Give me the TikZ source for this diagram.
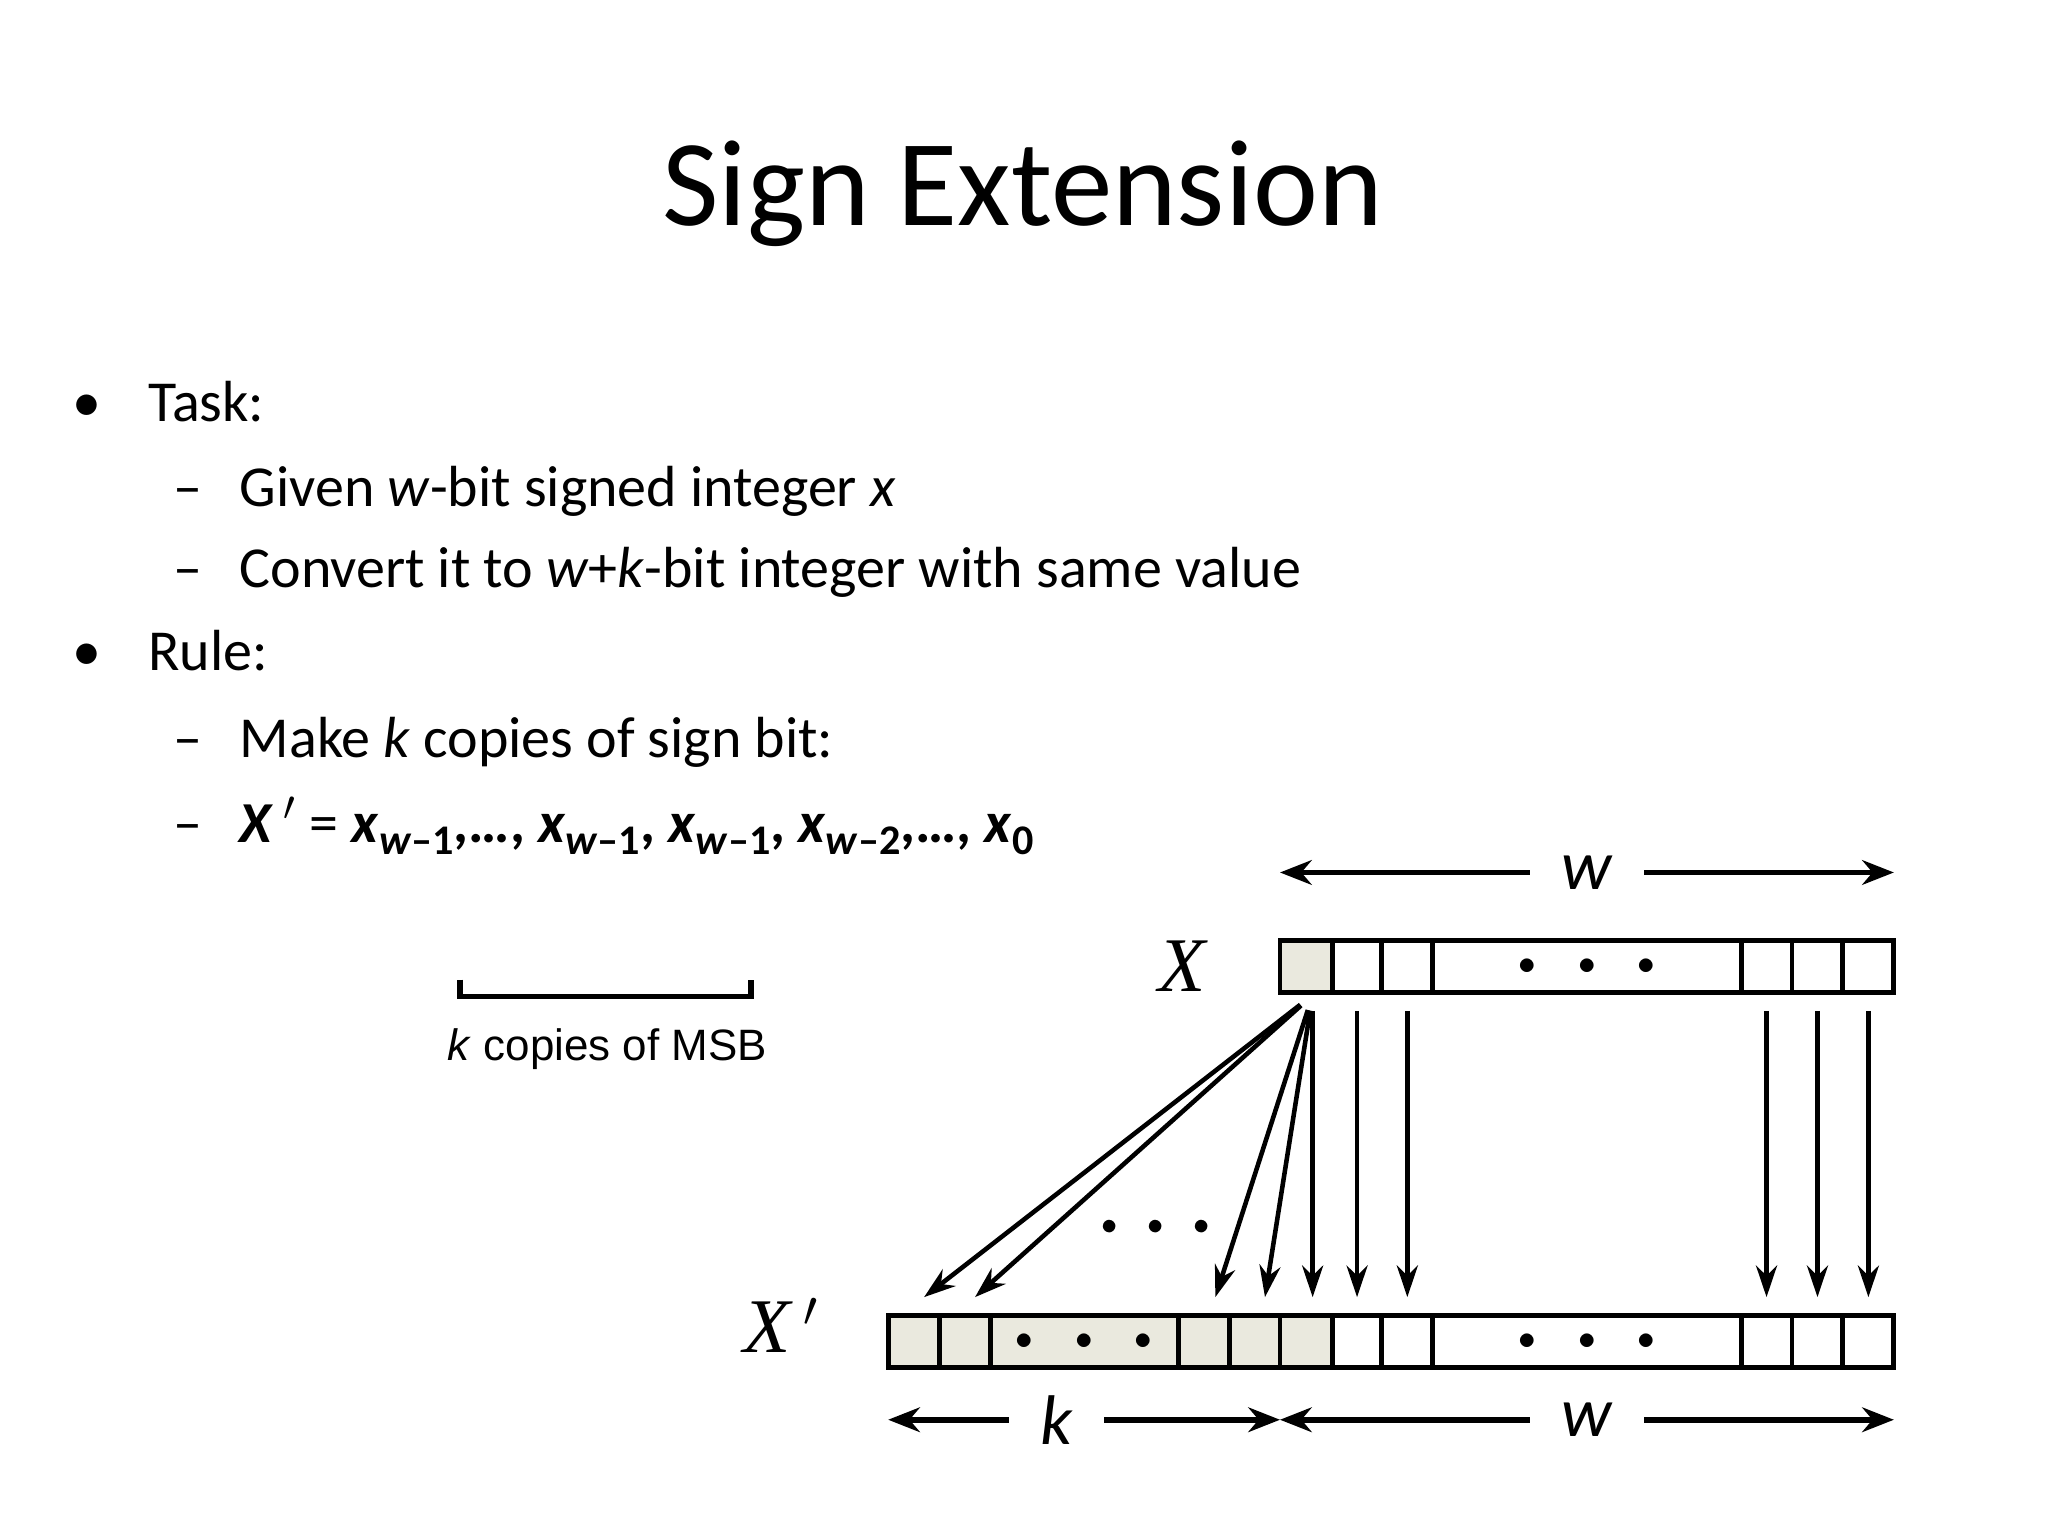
\documentclass[tikz,border=0pt]{standalone}
\usepackage{fontspec}
\setmainfont{Carlito}
\newfontfamily\arialfont{Liberation Sans}
\newfontfamily\timesfont{Liberation Serif}
\usetikzlibrary{positioning,arrows.meta}
\definecolor{shade}{RGB}{234,233,222}
\def\u{0.01306cm}
\newcommand\xsub[1]{\textbf{\textit{x}}\raisebox{-0.45ex}{\fontsize{12}{12}\selectfont\bfseries #1}}
\newcommand\threedots{$\bullet$\hspace{0.42cm}$\bullet$\hspace{0.42cm}$\bullet$}
\begin{document}
\begin{tikzpicture}[x=0.01306cm,y=-0.01306cm,
    cell/.style ={draw, line width=1.4pt, inner sep=0pt, minimum height={40*\u}},
    signbit/.style ={cell, fill=shade},
    bullet/.style ={anchor=base west, inner sep=0pt, font=\fontsize{16.5}{20}\selectfont},
    bitarrow/.style ={-{Stealth[length=9pt,width=6pt]}, line width=1.3pt, shorten <=12*\u},
    dimarrow/.style ={{Stealth[length=9pt,width=7pt,open]}-{Stealth[length=9pt,width=7pt,open]}, line width=1.6pt},
    dimlabel/.style ={fill=white, font=\fontsize{20}{20}\selectfont\itshape, inner xsep=9pt, inner ysep=1pt}]
   \useasboundingbox (0,0) rectangle (1568,1176);

   \node (title) at (783,148) {\fontsize{35}{40}\selectfont Sign Extension};

   % bullet list
   \node[bullet] (b1) at (55,323) {\textbullet};
   \node[bullet] (t1) at (113,323) {Task:};
   \node[bullet] (d1) at (132,388) {–};
   \node[bullet] (t2) at (183,388) {Given \textit{w}-bit signed integer \textit{x}};
   \node[bullet] (d2) at (132,450) {–};
   \node[bullet] (t3) at (183,450) {Convert it to \textit{w}+\textit{k}-bit integer with same value};
   \node[bullet] (b2) at (55,513) {\textbullet};
   \node[bullet] (t4) at (113,513) {Rule:};
   \node[bullet] (d3) at (132,580) {–};
   \node[bullet] (t5) at (183,580) {Make \textit{k} copies of sign bit:};
   \node[bullet] (d4) at (132,645) {–};
   \node[bullet] (t6) at (183,645) {\textbf{\textit{X}}\,$'$ = \xsub{\textit{w}–1}\textbf{,…,} \xsub{\textit{w}–1}\textbf{,} \xsub{\textit{w}–1}\textbf{,} \xsub{\textit{w}–2}\textbf{,…,} \xsub{0}};

   % top word X
   \node[signbit, minimum width={40*\u}] (s) at (1000,740) {};
   \foreach \l/\r/\n in {1020/1058/t2,1058/1097/t3,1097/1333/tdots,1333/1372/t4,1372/1411/t5,1411/1450/t6}
     \node[cell, minimum width={(\r-\l)*\u}] (\n) at ({(\l+\r)/2},740) {};
   \node at (tdots) {\threedots};
   \node (X) at (905,740) {\fontsize{22}{22}\timesfont\itshape X};

   % bottom word X'
   \foreach \l/\r/\n in {680/719/c1,719/758/c2,758/902/cdots,902/941/c3,941/980/c4,980/1020/c5}
     \node[signbit, minimum width={(\r-\l)*\u}] (\n) at ({(\l+\r)/2},1027) {};
   \foreach \l/\r/\n in {1020/1058/e2,1058/1097/e3,1097/1333/edots,1333/1372/e4,1372/1411/e5,1411/1450/e6}
     \node[cell, minimum width={(\r-\l)*\u}] (\n) at ({(\l+\r)/2},1027) {};
   \node at (cdots) {\threedots};
   \node at (edots) {\threedots};
   \node (Xp) at (598,1015) {\fontsize{22}{22}\timesfont\itshape X\,$'$};

   % copies of the sign bit
   \coordinate (src) at ([xshift=5*\u]s.south);
   \foreach \n/\dx in {c1/8,c2/8,c3/9,c4/8,c5/5}
     \draw[bitarrow] (src) -- ([xshift=\dx*\u,yshift=12*\u]\n.north);
   \foreach \a/\b in {t2/e2,t3/e3,t4/e4,t5/e5,t6/e6}
     \draw[bitarrow] (\a.south) -- ([yshift=12*\u]\b.north);
   \node (mid) at (885,940) {\small $\bullet$\hspace{0.3cm}$\bullet$\hspace{0.3cm}$\bullet$};

   % widths
   \coordinate (wl) at (980,668);  \coordinate (wr) at (1450,668);
   \draw[dimarrow] (wl) -- (wr) node[midway, dimlabel] (wtop) {w};
   \coordinate (kl) at (680,1087); \coordinate (km) at (980,1087); \coordinate (kr) at (1450,1087);
   \draw[dimarrow] (kl) -- (km) node[pos=0.43, dimlabel] (klab) {k};
   \draw[dimarrow] (km) -- (kr) node[midway, dimlabel] (wbot) {w};

   % bracket
   \draw[line width=1.6pt] (352,750) -- (352,763) -- (575,763) -- (575,750);
   \node (copies) at (465,803) {\arialfont\fontsize{12.5}{14}\selectfont\textit{k} copies of MSB};
\end{tikzpicture}
\end{document}
